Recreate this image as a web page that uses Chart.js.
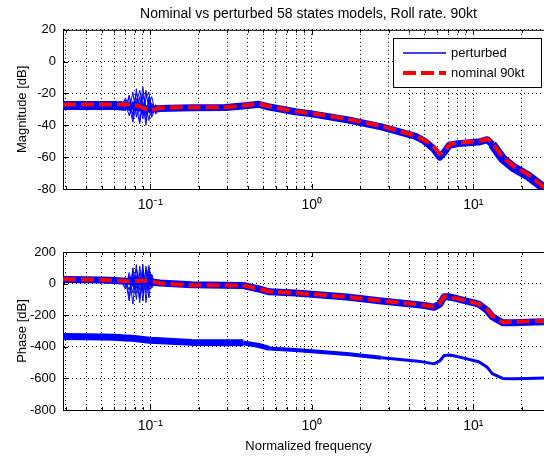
<!DOCTYPE html>
<html>
<head>
<meta charset="utf-8">
<script src="https://cdn.jsdelivr.net/npm/chart.js@4.4.1/dist/chart.umd.min.js"></script>
<style>
  html, body { margin: 0; padding: 0; background: #fff; overflow: hidden; width: 544px; height: 457px; }
  .box { position: absolute; left: 0; width: 560px; }
  #magBox { top: 0; height: 215px; }
  #phaseBox { top: 228px; height: 229px; }
</style>
</head>
<body>
<div id="magBox" class="box"><canvas id="magChart"></canvas></div>
<div id="phaseBox" class="box"><canvas id="phaseChart"></canvas></div>
<script>
// frequency points (normalized)
const freq = [0.0288, 0.04, 0.05, 0.06, 0.07, 0.077, 0.085, 0.099, 0.115, 0.18, 0.29, 0.376, 0.47, 0.545,
              0.79, 1.0, 1.65, 2.7, 4.4, 5.0, 5.7, 6.2, 6.6, 7.1, 8.0, 10.8, 12.2, 13.1, 15.2, 17.7, 21.6, 27.5, 31.6];

// magnitude [dB]
const magNominal = [-27, -27, -27, -27, -27, -27, -28, -30.7, -29, -28.6, -28.6, -27.6, -26.5, -28.2,
                    -31.2, -32.4, -36, -40.5, -46.5, -49.5, -53.5, -58, -56.5, -52, -51, -50, -48.6, -51,
                    -60, -65.5, -70.5, -79, -82];
const magPerturbed = [-27.5, -27.5, -27.5, -27.5, -28, -28, -29, -30, -29.5, -29, -28.8, -27.8, -26.8, -28.5,
                      -31.5, -32.8, -36.5, -41, -47, -50, -55, -60, -57, -52.5, -51.5, -50.5, -49, -52,
                      -61, -66.5, -71.5, -79.5, -82.5];

// phase
const phaseNominal = [28, 26, 25, 20, 16, 15, 18, 18, 2, -10, -11, -12, -32, -50,
                      -59, -67, -84, -109, -130, -137, -147, -125, -80, -86, -95, -128, -165, -205,
                      -244, -243, -238, -236, -236];
const phasePerturbed = [26, 24, 23, 19, 15, 14, 14, 12, 4, -8, -10, -12, -34, -52,
                        -60, -68, -85, -110, -132, -139, -150, -130, -83, -84, -96, -130, -170, -210,
                        -248, -248, -244, -242, -242];
const phaseWrapped = [-335, -337, -338, -340, -344, -346, -350, -358, -362, -372, -374, -375, -392, -410,
                      -420, -428, -446, -470, -490, -497, -508, -490, -455, -452, -462, -495, -530, -570,
                      -600, -602, -600, -598, -597];

// perturbed models oscillating around the 0.07 - 0.1 mode
const oscFreq = [0.060, 0.066, 0.070, 0.074, 0.078, 0.082, 0.086, 0.090, 0.094, 0.098, 0.102, 0.108, 0.115, 0.125];
const magOscA = [-27, -27, -24, -31, -19, -35, -22, -33, -18, -30, -26, -31, -30, -29];
const magOscB = [-27, -28, -30, -21, -36, -17, -38, -25, -40, -22, -33, -29, -30, -29];
const magOscC = [-27, -26, -29, -25, -33, -23, -30, -16, -34, -24, -35, -28, -30, -29];
const magOscD = [-28, -27, -26, -34, -25, -29, -39, -21, -28, -37, -27, -32, -30, -29];
const magOscE = [-27, -25, -31, -22, -29, -20, -27, -36, -23, -19, -31, -27, -31, -29];
const magOscF = [-28, -29, -23, -28, -38, -26, -18, -29, -37, -27, -22, -33, -29, -29];
const phaseOscA = [15, 14, 20, -40, 60, -100, 110, -60, 40, 100, 20, 5, 2, 0];
const phaseOscB = [15, 12, -20, 50, -130, 90, -40, 120, -120, 60, -20, 10, 0, 0];
const phaseOscC = [15, 16, 40, -80, 100, -30, 70, -110, 110, -40, 40, -5, 5, 0];
const phaseOscD = [15, 14, 5, 30, -60, 120, -90, 60, -20, 80, -30, 15, 0, 0];
const phaseOscE = [15, 18, -35, 70, -20, 50, -120, 90, -60, 115, -10, 20, 3, 0];
const phaseOscF = [15, 10, 30, -110, 80, -60, 40, -30, 95, -90, 60, -15, 0, 0];

// axis ticks
const xTickValues = [0.03, 0.04, 0.05, 0.06, 0.07, 0.08, 0.09,
                     0.1, 0.2, 0.3, 0.4, 0.5, 0.6, 0.7, 0.8, 0.9,
                     1, 2, 3, 4, 5, 6, 7, 8, 9,
                     10, 20, 30];
const xTickLabels = { 0.1: '10\u207B\u00B9', 1: '10\u2070', 10: '10\u00B9' };

const BLUE = '#0000ff';
const RED = '#ff0000';
const FONT = { family: '"Liberation Sans", Arial, sans-serif', size: 13 };

function pts(xs, ys) {
    return xs.map((x, i) => ({ x: x, y: ys[i] }));
}

function oscSet(ys) {
    return { label: '', data: pts(oscFreq, ys), borderColor: BLUE, borderWidth: 1,
             pointRadius: 0, order: 2 };
}

// MATLAB style box + inward tick marks
const axesBox = {
    id: 'axesBox',
    beforeDatasetsDraw(chart) {
        const ctx = chart.ctx;
        const a = chart.chartArea;
        const xs = chart.scales.x, ys = chart.scales.y;
        ctx.save();
        ctx.strokeStyle = '#000';
        ctx.lineWidth = 1;
        ctx.beginPath();
        ctx.moveTo(a.left, a.top + 0.5);
        ctx.lineTo(a.right, a.top + 0.5);
        ctx.moveTo(a.right - 0.5, a.top);
        ctx.lineTo(a.right - 0.5, a.bottom);
        xs.ticks.forEach(t => {
            const px = Math.round(xs.getPixelForValue(t.value)) + 0.5;
            const len = xTickLabels[t.value] ? 5 : 3;
            ctx.moveTo(px, a.bottom);
            ctx.lineTo(px, a.bottom - len);
            ctx.moveTo(px, a.top);
            ctx.lineTo(px, a.top + len);
        });
        ys.ticks.forEach(t => {
            const py = Math.round(ys.getPixelForValue(t.value)) + 0.5;
            ctx.moveTo(a.left, py);
            ctx.lineTo(a.left + 5, py);
        });
        ctx.stroke();
        ctx.restore();
    }
};

// boxed legend in the upper right corner
const legendBox = {
    id: 'legendBox',
    afterDraw(chart) {
        const ctx = chart.ctx;
        const x = 393, y = 38, w = 148, h = 49;
        ctx.save();
        ctx.fillStyle = '#fff';
        ctx.fillRect(x, y, w, h);
        ctx.strokeStyle = '#000';
        ctx.lineWidth = 1;
        ctx.strokeRect(x + 0.5, y + 0.5, w, h);
        const items = chart.data.datasets.filter(d => d.label).sort((a, b) => b.order - a.order);
        items.forEach((d, i) => {
            const ly = y + 15 + i * 20;
            ctx.beginPath();
            ctx.strokeStyle = d.borderColor;
            ctx.lineWidth = d.borderDash ? 4 : 1.5;
            ctx.setLineDash(d.borderDash || []);
            ctx.moveTo(x + 10, ly);
            ctx.lineTo(x + 53, ly);
            ctx.stroke();
            ctx.setLineDash([]);
            ctx.fillStyle = '#000';
            ctx.font = FONT.size + 'px ' + FONT.family;
            ctx.textBaseline = 'middle';
            ctx.fillText(d.label, x + 58, ly);
        });
        ctx.restore();
    }
};

function xAxis(height, title) {
    return {
        type: 'logarithmic',
        min: 0.0288,
        max: 31.6,
        afterBuildTicks: s => { s.ticks = xTickValues.map(v => ({ value: v })); },
        afterFit: s => { s.height = height; },
        ticks: {
            autoSkip: false, maxRotation: 0, padding: 8, color: '#000',
            font: { family: FONT.family, size: 14 },
            callback: v => xTickLabels[v] || ''
        },
        grid: { color: '#000', drawTicks: false },
        border: { display: true, color: '#000', dash: [1, 3] },
        title: {
            display: !!title, text: title, color: '#000', font: FONT,
            padding: { top: 0, bottom: 3 }
        }
    };
}

function yAxis(min, max, step, title) {
    return {
        min: min,
        max: max,
        afterFit: s => { s.width = 63; },
        ticks: { stepSize: step, padding: 7, color: '#000', font: FONT },
        grid: { color: '#000', drawTicks: false },
        border: { display: true, color: '#000', dash: [1, 3] },
        title: {
            display: true, text: title, color: '#000', font: FONT,
            padding: { top: 15, bottom: 0 }
        }
    };
}

const common = {
    responsive: true,
    maintainAspectRatio: false,
    animation: false,
    events: [],
    elements: { line: { tension: 0, borderCapStyle: 'butt', borderJoinStyle: 'round' } }
};

// Magnitude chart
new Chart(document.getElementById('magChart'), {
    type: 'line',
    data: {
        datasets: [
            { label: 'nominal 90kt', data: pts(freq, magNominal), borderColor: RED, borderWidth: 4,
              borderDash: [13, 5], pointRadius: 0, order: 0 },
            { label: 'perturbed', data: pts(freq, magPerturbed), borderColor: BLUE, borderWidth: 8,
              pointRadius: 0, order: 3,
              segment: { borderWidth: c => (c.p0.parsed.x < 0.07 || c.p0.parsed.x > 13) ? 9 : 7 } },
            oscSet(magOscA), oscSet(magOscB), oscSet(magOscC), oscSet(magOscD),
            oscSet(magOscE), oscSet(magOscF)
        ]
    },
    options: Object.assign({}, common, {
        layout: { padding: { left: 0, right: 6, top: 0, bottom: 0 } },
        scales: {
            x: xAxis(26, ''),
            y: yAxis(-80, 20, 20, 'Magnitude [dB]')
        },
        plugins: {
            legend: { display: false },
            tooltip: { enabled: false },
            title: {
                display: true, fullSize: false,
                text: 'Nominal vs perturbed 58 states models, Roll rate. 90kt',
                color: '#000', font: { family: FONT.family, size: 14, weight: 'normal' },
                padding: { top: 6, bottom: 7 }
            }
        }
    }),
    plugins: [axesBox, legendBox]
});

// Phase chart
new Chart(document.getElementById('phaseChart'), {
    type: 'line',
    data: {
        datasets: [
            { label: 'nominal 90kt', data: pts(freq, phaseNominal), borderColor: RED, borderWidth: 4,
              borderDash: [13, 5], pointRadius: 0, order: 0 },
            { label: 'perturbed', data: pts(freq, phasePerturbed), borderColor: BLUE, borderWidth: 7,
              pointRadius: 0, order: 3 },
            { label: '', data: pts(freq, phaseWrapped), borderColor: BLUE, borderWidth: 7,
              pointRadius: 0, order: 3,
              segment: { borderWidth: c => c.p0.parsed.x < 0.3 ? 7 : (c.p0.parsed.x < 0.5 ? 5 : (c.p0.parsed.x < 2 ? 4 : 3)) } },
            oscSet(phaseOscA), oscSet(phaseOscB), oscSet(phaseOscC), oscSet(phaseOscD),
            oscSet(phaseOscE), oscSet(phaseOscF)
        ]
    },
    options: Object.assign({}, common, {
        layout: { padding: { left: 0, right: 6, top: 24, bottom: 0 } },
        scales: {
            x: xAxis(47, 'Normalized frequency'),
            y: yAxis(-800, 200, 200, 'Phase [dB]')
        },
        plugins: {
            legend: { display: false },
            tooltip: { enabled: false }
        }
    }),
    plugins: [axesBox]
});
</script>
</body>
</html>
